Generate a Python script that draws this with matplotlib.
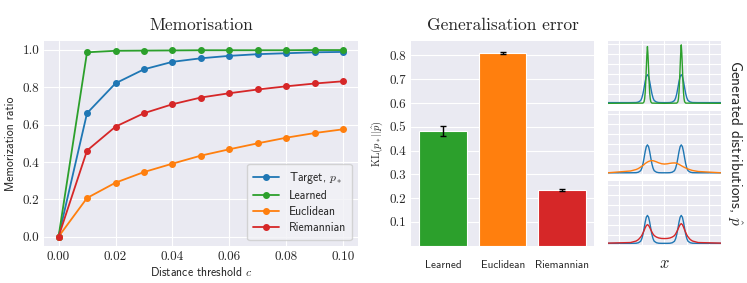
import numpy as np
import matplotlib
matplotlib.use("Agg")
import matplotlib.pyplot as plt

plt.style.use("seaborn-v0_8-darkgrid")
plt.rcParams["font.family"] = ["cmss10", "DejaVu Sans"]
plt.rcParams["mathtext.fontset"] = "cm"
plt.rcParams["axes.unicode_minus"] = False
plt.rcParams["axes.formatter.use_mathtext"] = True

# memorisation curves
thresholds = [0.00, 0.01, 0.02, 0.03, 0.04, 0.05, 0.06, 0.07, 0.08, 0.09, 0.10]
mem_target = [0.0, 0.661, 0.821, 0.896, 0.936, 0.955, 0.968, 0.977, 0.982, 0.987, 0.989]
mem_learned = [0.0, 0.987, 0.995, 0.996, 0.997, 0.998, 0.998, 0.998, 0.998, 0.999, 0.999]
mem_euclid = [0.0, 0.207, 0.289, 0.346, 0.391, 0.434, 0.468, 0.500, 0.530, 0.555, 0.575]
mem_riemann = [0.0, 0.461, 0.589, 0.661, 0.709, 0.745, 0.768, 0.788, 0.805, 0.820, 0.832]

# generalisation error
methods = ["Learned", "Euclidean", "Riemannian"]
kl_mean = [0.483, 0.810, 0.234]
kl_err = [0.021, 0.006, 0.003]

# generated densities
x_grid = [-5, -3, -2.5, -2.3, -2.1, -2.0, -1.9, -1.8, -1.7, -1.6, -1.5, -1.4, -1.3, -1.2,
          -1.1, -1.0, -0.9, -0.7, -0.5, -0.25, 0, 0.25, 0.5, 0.7, 0.9, 1.0, 1.1, 1.2, 1.3,
          1.4, 1.5, 1.6, 1.7, 1.8, 1.9, 2.0, 2.1, 2.3, 2.5, 3, 5]
dens_target = [0.012, 0.012, 0.013, 0.018, 0.033, 0.058, 0.10, 0.16, 0.225, 0.275, 0.293,
               0.275, 0.225, 0.16, 0.10, 0.058, 0.033, 0.018, 0.013, 0.012, 0.012, 0.012,
               0.013, 0.018, 0.033, 0.058, 0.10, 0.16, 0.225, 0.275, 0.293, 0.275, 0.225,
               0.16, 0.10, 0.058, 0.033, 0.018, 0.013, 0.012, 0.012]
dens_euclid = [0.012, 0.03, 0.045, 0.055, 0.07, 0.078, 0.085, 0.095, 0.105, 0.113, 0.12,
               0.126, 0.13, 0.133, 0.134, 0.133, 0.13, 0.122, 0.112, 0.103, 0.10, 0.102,
               0.107, 0.11, 0.111, 0.11, 0.107, 0.102, 0.097, 0.09, 0.084, 0.077, 0.071,
               0.065, 0.06, 0.055, 0.05, 0.042, 0.035, 0.025, 0.012]
dens_riemann = [0.014, 0.02, 0.035, 0.05, 0.075, 0.092, 0.115, 0.14, 0.168, 0.19, 0.20,
                0.192, 0.172, 0.148, 0.125, 0.105, 0.09, 0.075, 0.066, 0.061, 0.06, 0.061,
                0.066, 0.075, 0.09, 0.107, 0.128, 0.152, 0.178, 0.20, 0.21, 0.20, 0.176,
                0.146, 0.12, 0.095, 0.077, 0.05, 0.035, 0.02, 0.014]
x_learned = [-5, -1.9, -1.8, -1.75, -1.7, -1.65, -1.6, -1.55, -1.5, -1.45, -1.4, -1.35, -1.3,
             -1.25, -1.2, -1.1, 0, 1.1, 1.2, 1.25, 1.3, 1.35, 1.4, 1.45, 1.5, 1.55, 1.6,
             1.65, 1.7, 1.75, 1.8, 1.9, 5]
dens_learned = [0.005, 0.007, 0.02, 0.05, 0.11, 0.22, 0.36, 0.49, 0.576, 0.49, 0.36, 0.22,
                0.11, 0.05, 0.02, 0.007, 0.005, 0.007, 0.02, 0.05, 0.115, 0.225, 0.37, 0.505,
                0.593, 0.505, 0.37, 0.225, 0.115, 0.05, 0.02, 0.007, 0.005]

blue, orange, green, red = "#1f77b4", "#ff7f0e", "#2ca02c", "#d62728"
serif = ["cmr10", "DejaVu Serif"]

fig = plt.figure(figsize=(7.47, 2.83), dpi=100)

# left: memorisation
ax = fig.add_axes([0.0593, 0.1307, 0.4195, 0.7254])
for vals, col, lab in [(mem_target, blue, r"Target, $p_*$"), (mem_learned, green, "Learned"),
                       (mem_euclid, orange, "Euclidean"), (mem_riemann, red, "Riemannian")]:
    ax.plot(thresholds, vals, "-o", color=col, lw=1.3, ms=4, label=lab)
ax.set_xticks([0.0, 0.02, 0.04, 0.06, 0.08, 0.10])
ax.set_xticklabels(["0.00", "0.02", "0.04", "0.06", "0.08", "0.10"])
ax.set_yticks([0.0, 0.2, 0.4, 0.6, 0.8, 1.0])
ax.set_yticklabels(["0.0", "0.2", "0.4", "0.6", "0.8", "1.0"])
for t in ax.get_xticklabels() + ax.get_yticklabels():
    t.set_fontfamily(serif)
    t.set_fontsize(9.5)
ax.set_xlabel(r"Distance threshold $c$", fontsize=8.5, labelpad=2)
ax.set_ylabel("Memorization ratio", fontsize=8.5, labelpad=4)
ax.set_title("Memorisation", fontsize=12.5, family=serif, pad=8)
leg = ax.legend(loc="lower right", fontsize=8.5, frameon=True, borderpad=0.5,
                handlelength=2.2, labelspacing=0.35)
leg.get_frame().set_facecolor("#f2f2f6")
leg.get_frame().set_edgecolor("#cccccc")

# middle: generalisation error
ax2 = fig.add_axes([0.5502, 0.1318, 0.2454, 0.7244])
ax2.bar(range(len(methods)), kl_mean, width=0.8, color=[green, orange, red],
        edgecolor="white", linewidth=0.8, yerr=kl_err, capsize=2.5,
        error_kw=dict(ecolor="black", elinewidth=1, capthick=1))
ax2.set_xticks(range(len(methods)))
ax2.set_xticklabels(methods, fontsize=8)
ax2.tick_params(axis="x", pad=10)
ax2.set_yticks([0.1, 0.2, 0.3, 0.4, 0.5, 0.6, 0.7, 0.8])
ax2.set_yticklabels(["0.1", "0.2", "0.3", "0.4", "0.5", "0.6", "0.7", "0.8"])
for t in ax2.get_yticklabels():
    t.set_fontfamily(serif)
    t.set_fontsize(9.5)
ax2.set_ylim(0, 0.862)
ax2.grid(axis="x", visible=False)
ax2.set_ylabel(r"$\mathrm{KL}(p_*||\hat{p})$", fontsize=7.5, labelpad=3)
ax2.set_title("Generalisation error", fontsize=12.5, family=serif, pad=8)

# right: generated distributions
panels = [
    (0.6279, dens_learned, x_learned, green),
    (0.3800, dens_euclid, x_grid, orange),
    (0.1307, dens_riemann, x_grid, red),
]
for bottom, dens, xs, col in panels:
    a = fig.add_axes([0.8139, bottom, 0.1509, 0.2283])
    a.plot(x_grid, dens_target, color=blue, lw=1.0)
    a.plot(xs, dens, color=col, lw=1.0)
    a.set_xlim(-5, 5)
    a.set_ylim(-0.015, 0.635)
    a.set_xticks([-4, -2, 0, 2, 4])
    a.set_yticks([0.0, 0.1, 0.2, 0.3, 0.4, 0.5, 0.6])
    a.set_xticklabels([])
    a.set_yticklabels([])
    a.tick_params(length=0)
    a.grid(linewidth=0.8)
    if bottom < 0.2:
        a.set_xlabel(r"$x$", fontsize=12, labelpad=4)
    if bottom > 0.35 and bottom < 0.5:
        a.yaxis.set_label_position("right")
        a.set_ylabel(r"Generated distributions, $\hat{p}$", fontsize=11, rotation=270,
                     labelpad=16)

fig.savefig("out.png", dpi=100)
